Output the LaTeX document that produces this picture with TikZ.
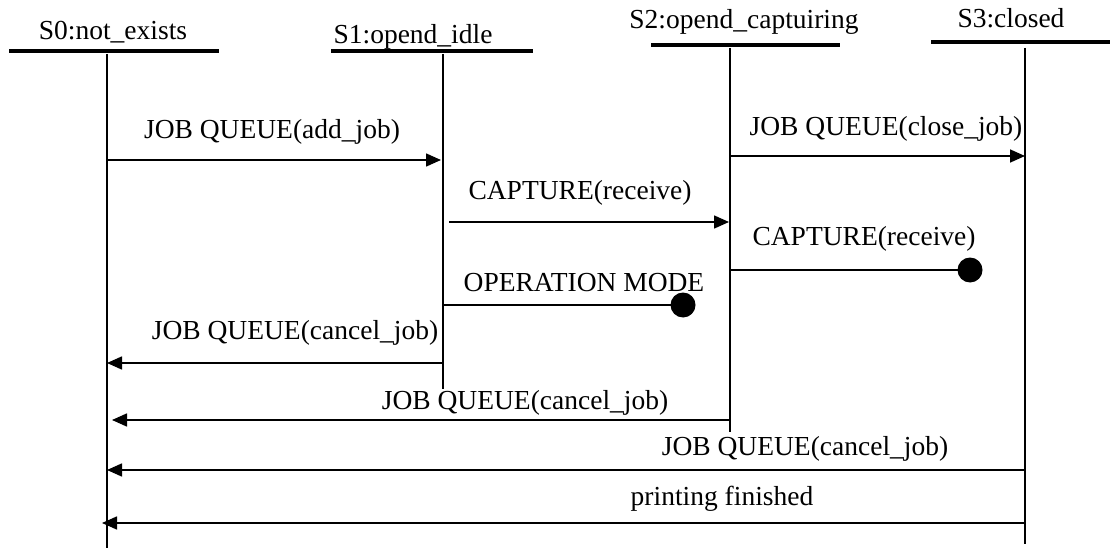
\documentclass[tikz,border=0pt]{standalone}
\usepackage{fontspec}
\setmainfont{Liberation Serif}
\usetikzlibrary{arrows.meta}
\begin{document}
\begin{tikzpicture}[x=1pt,y=-1pt,
  bar/.style={line width=3.3pt},
  life/.style={line width=1.8pt},
  msg/.style={line width=1.6pt,-{Triangle[length=15pt,width=13pt]}},
  stopmsg/.style={line width=1.6pt},
  blob/.style={circle,fill=black,inner sep=0pt,minimum size=25pt},
  lbl/.style={inner sep=0pt,font=\fontsize{27.5}{32}\selectfont},
  hdr/.style={inner sep=0pt,anchor=base,font=\fontsize{27.5}{32}\selectfont}]
\useasboundingbox (0,0) rectangle (1110,548);
% headers
\node[hdr] (h0) at (113,40) {S0:not\_exists};
\node[hdr] (h1) at (413,44) {S1:opend\_idle};
\node[hdr] (h2) at (744,29) {S2:opend\_captuiring};
\node[hdr] (h3) at (1011,28) {S3:closed};
% bars
\coordinate (b0l) at (9,51);   \coordinate (b0r) at (219,51);
\coordinate (b1l) at (331,51); \coordinate (b1r) at (533,51);
\coordinate (b2l) at (651,45); \coordinate (b2r) at (840,45);
\coordinate (b3l) at (931,42); \coordinate (b3r) at (1110,42);
\draw[bar] (b0l) -- (b0r);
\draw[bar] (b1l) -- (b1r);
\draw[bar] (b2l) -- (b2r);
\draw[bar] (b3l) -- (b3r);
% lifelines
\coordinate (l0t) at (107,54);  \coordinate (l0b) at (107,548);
\coordinate (l1t) at (443,54);  \coordinate (l1b) at (443,389);
\coordinate (l2t) at (730,48);  \coordinate (l2b) at (730,432);
\coordinate (l3t) at (1025,48); \coordinate (l3b) at (1025,544);
\draw[life] (l0t) -- (l0b);
\draw[life] (l1t) -- (l1b);
\draw[life] (l2t) -- (l2b);
\draw[life] (l3t) -- (l3b);
% message end points
\coordinate (m1a) at (107,160); \coordinate (m1b) at (441,160);
\coordinate (m2a) at (449,222); \coordinate (m2b) at (729,222);
\coordinate (m3a) at (730,156); \coordinate (m3b) at (1025,156);
\coordinate (m4a) at (730,270);
\node[blob] (d4) at (970,270) {};
\coordinate (m5a) at (443,305);
\node[blob] (d5) at (683,305) {};
\coordinate (m6a) at (443,363); \coordinate (m6b) at (107,363);
\coordinate (m7a) at (730,420); \coordinate (m7b) at (112,420);
\coordinate (m8a) at (1025,470); \coordinate (m8b) at (107,470);
\coordinate (m9a) at (1025,523); \coordinate (m9b) at (102,523);
% messages
\draw[msg] (m1a) -- (m1b);
\draw[msg] (m2a) -- (m2b);
\draw[msg] (m3a) -- (m3b);
\draw[stopmsg] (m4a) -- (d4.center);
\draw[stopmsg] (m5a) -- (d5.center);
\draw[msg] (m6a) -- (m6b);
\draw[msg] (m7a) -- (m7b);
\draw[msg] (m8a) -- (m8b);
\draw[msg] (m9a) -- (m9b);
% labels
\node[lbl] (t1) at (272,132) {JOB QUEUE(add\_job)};
\node[lbl] (t2) at (580,193) {CAPTURE(receive)};
\node[lbl] (t3) at (886,129) {JOB QUEUE(close\_job)};
\node[lbl] (t4) at (864,239) {CAPTURE(receive)};
\node[lbl] (t5) at (584,283) {OPERATION MODE};
\node[lbl] (t6) at (295,333) {JOB QUEUE(cancel\_job)};
\node[lbl] (t7) at (525,403) {JOB QUEUE(cancel\_job)};
\node[lbl] (t8) at (805,449) {JOB QUEUE(cancel\_job)};
\node[lbl] (t9) at (722,499) {printing finished};
\end{tikzpicture}
\end{document}
